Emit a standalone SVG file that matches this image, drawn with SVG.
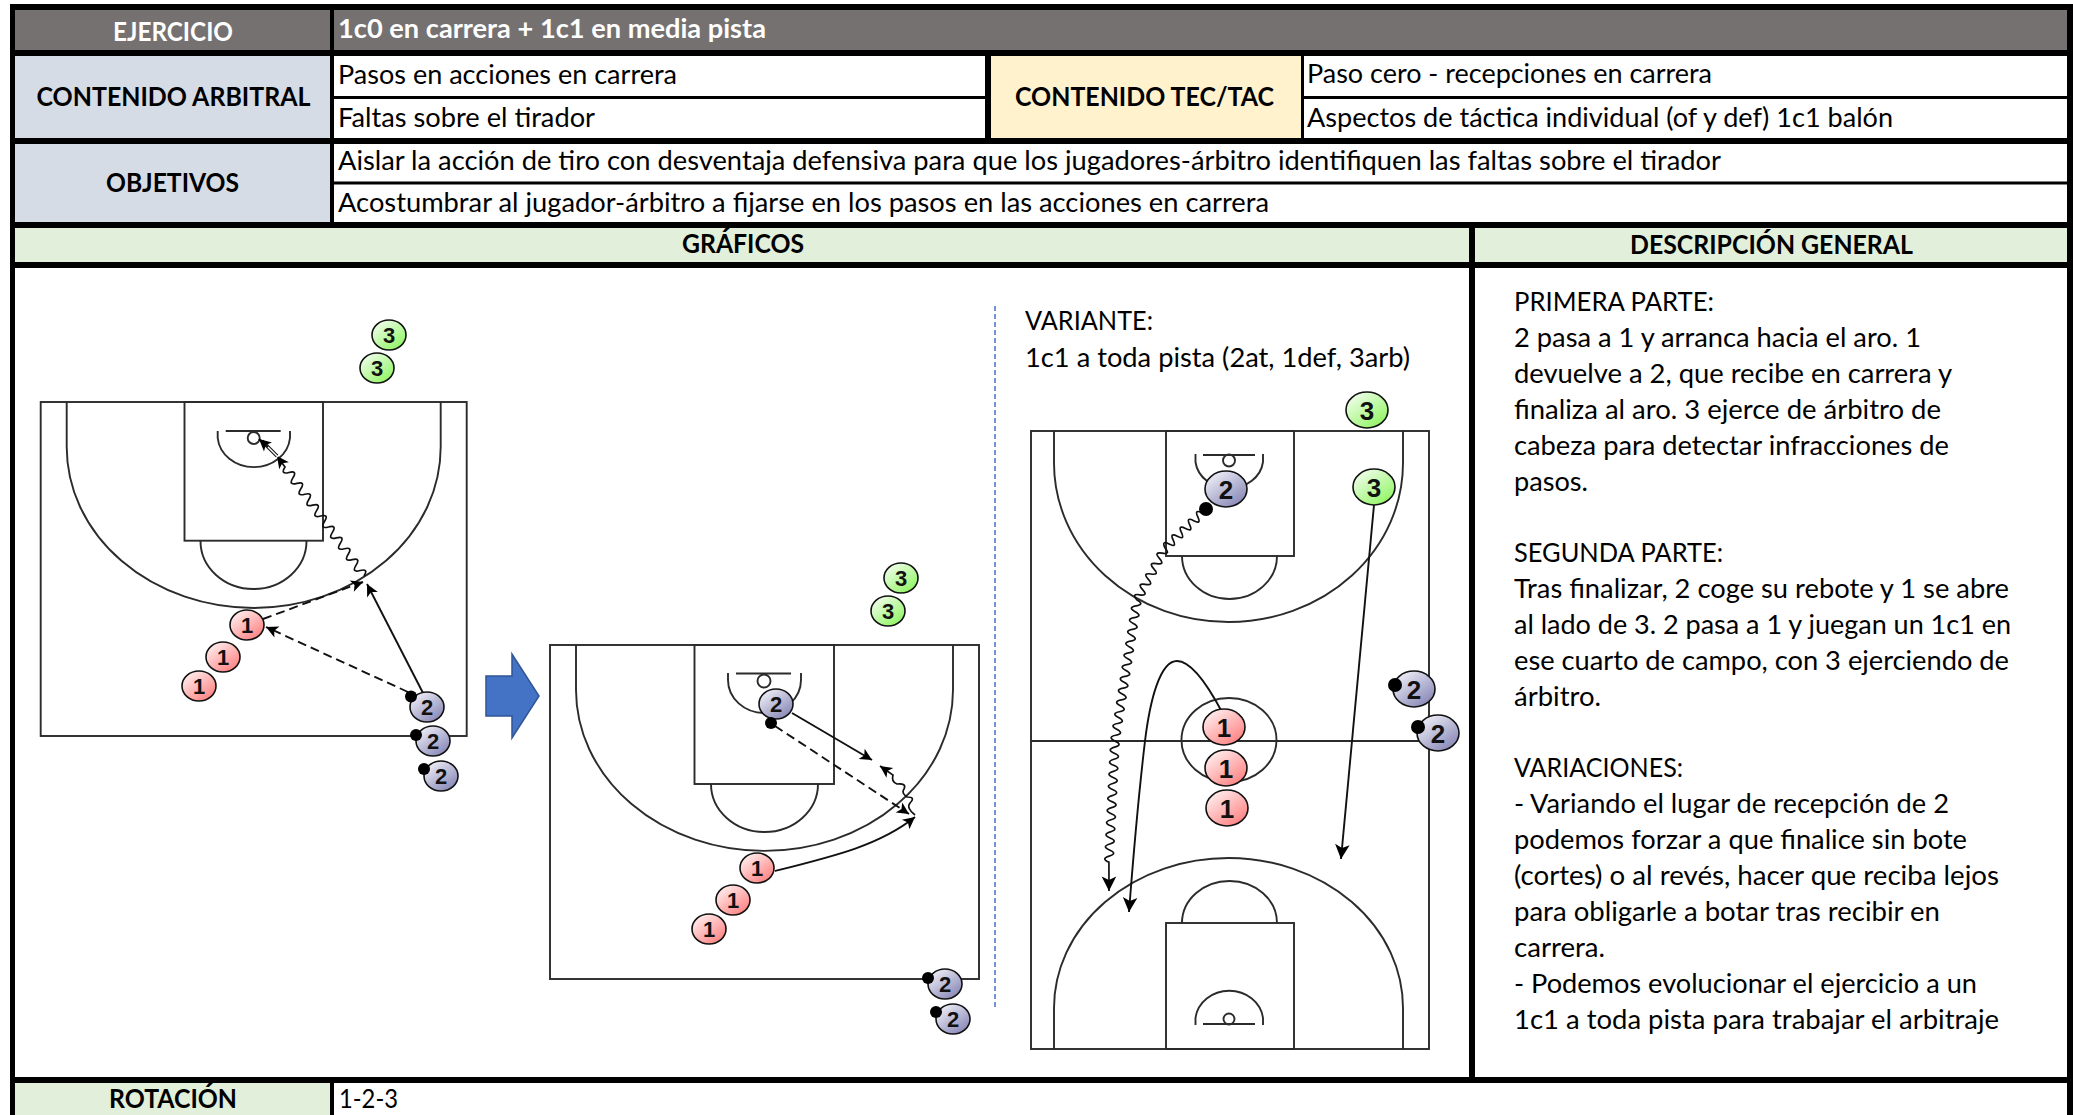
<svg xmlns="http://www.w3.org/2000/svg" width="2073" height="1115" viewBox="0 0 2073 1115">
<style>
text{font-family:Lato,"Liberation Sans",sans-serif;fill:#000}
.t{font-size:26.5px}
.d{font-size:26.5px}
.b{font-size:26px;font-weight:700}
.w{fill:#fff}
.c{fill:none;stroke:#2b2b2b;stroke-width:1.9}
.m{stroke:#111;stroke-width:1.6}
.n{font-family:"Liberation Sans",Arial,sans-serif;font-weight:700;font-size:22px;text-anchor:middle;fill:#111}
.nl{font-size:26px}
.ball{fill:#000}
.l{fill:none;stroke:#111;stroke-width:1.9;marker-end:url(#a)}
.lb{fill:none;stroke:#111;stroke-width:1.9;marker-end:url(#ab)}
.ds{stroke-dasharray:9 5}
.wv{stroke-width:1.7}
</style>
<defs>
<linearGradient id="gr" x1="0.15" y1="0.1" x2="0.85" y2="0.95"><stop offset="0" stop-color="#ffecec"/><stop offset="1" stop-color="#ff7f7f"/></linearGradient>
<linearGradient id="gg" x1="0.15" y1="0.1" x2="0.85" y2="0.95"><stop offset="0" stop-color="#eefde8"/><stop offset="1" stop-color="#8ff560"/></linearGradient>
<linearGradient id="gp" x1="0.15" y1="0.1" x2="0.85" y2="0.95"><stop offset="0" stop-color="#ececf6"/><stop offset="1" stop-color="#8585b5"/></linearGradient>
<marker id="a" markerUnits="userSpaceOnUse" markerWidth="14" markerHeight="14" viewBox="0 0 14 14" refX="13" refY="7" orient="auto"><path d="M1,1 L13,7 L1,13 L4,7z" fill="#000"/></marker>
<marker id="ab" markerUnits="userSpaceOnUse" markerWidth="17" markerHeight="17" viewBox="0 0 14 14" refX="13" refY="7" orient="auto"><path d="M1,1 L13,7 L1,13 L4,7z" fill="#000"/></marker>
</defs>
<rect width="2073" height="1115" fill="#fff"/>

<g id="table-frame" fill="#000">
<rect x="10" y="4" width="2063" height="6"/>
<rect x="10" y="50" width="2063" height="6"/>
<rect x="10" y="138" width="2063" height="6"/>
<rect x="10" y="222" width="2063" height="6"/>
<rect x="10" y="262" width="2063" height="6"/>
<rect x="10" y="1077" width="2063" height="6"/>
<rect x="334" y="96" width="651" height="3"/>
<rect x="1304" y="96" width="763" height="3"/>
<rect x="334" y="181.5" width="1733" height="3"/>
<rect x="10" y="4" width="5" height="1111"/>
<rect x="2067" y="4" width="6" height="1111"/>
<rect x="330" y="10" width="4" height="212"/>
<rect x="985" y="56" width="6" height="82"/>
<rect x="1301" y="56" width="3" height="82"/>
<rect x="1469" y="228" width="6" height="855"/>
<rect x="330" y="1083" width="4" height="32"/>
</g>

<g id="cell-ejercicio"><rect x="15" y="10" width="315" height="40" fill="#767171"/><text class="b w" x="113" y="41" textLength="120" lengthAdjust="spacingAndGlyphs">EJERCICIO</text></g>
<g id="cell-titulo"><rect x="334" y="10" width="1733" height="40" fill="#767171"/><text class="b w" x="338" y="38" textLength="428" lengthAdjust="spacingAndGlyphs">1c0 en carrera + 1c1 en media pista</text></g>
<g id="cell-arbitral"><rect x="15" y="56" width="315" height="82" fill="#D6DCE5"/><text class="b" x="36.5" y="106" textLength="274" lengthAdjust="spacingAndGlyphs">CONTENIDO ARBITRAL</text></g>
<g id="cell-pasos"><text class="t" x="338" y="84" textLength="339" lengthAdjust="spacingAndGlyphs">Pasos en acciones en carrera</text></g>
<g id="cell-faltas"><text class="t" x="338" y="127" textLength="257" lengthAdjust="spacingAndGlyphs">Faltas sobre el tirador</text></g>
<g id="cell-tectac"><rect x="991" y="56" width="310" height="82" fill="#FFF2CC"/><text class="b" x="1015" y="106" textLength="259" lengthAdjust="spacingAndGlyphs">CONTENIDO TEC/TAC</text></g>
<g id="cell-paso-cero"><text class="t" x="1307" y="83" textLength="405" lengthAdjust="spacingAndGlyphs">Paso cero - recepciones en carrera</text></g>
<g id="cell-aspectos"><text class="t" x="1307" y="127" textLength="586" lengthAdjust="spacingAndGlyphs">Aspectos de táctica individual (of y def) 1c1 balón</text></g>
<g id="cell-objetivos"><rect x="15" y="144" width="315" height="78" fill="#D6DCE5"/><text class="b" x="106" y="192" textLength="133" lengthAdjust="spacingAndGlyphs">OBJETIVOS</text></g>
<g id="cell-obj1"><text class="t" x="338" y="170" textLength="1383" lengthAdjust="spacingAndGlyphs">Aislar la acción de tiro con desventaja defensiva para que los jugadores-árbitro identifiquen las faltas sobre el tirador</text></g>
<g id="cell-obj2"><text class="t" x="338" y="212" textLength="931" lengthAdjust="spacingAndGlyphs">Acostumbrar al jugador-árbitro a fijarse en los pasos en las acciones en carrera</text></g>
<g id="cell-graficos"><rect x="15" y="228" width="1454" height="34" fill="#E2EFDA"/><text class="b" x="682" y="253" textLength="122" lengthAdjust="spacingAndGlyphs">GRÁFICOS</text></g>
<g id="cell-descripcion"><rect x="1475" y="228" width="592" height="34" fill="#E2EFDA"/><text class="b" x="1630" y="254" textLength="283" lengthAdjust="spacingAndGlyphs">DESCRIPCIÓN GENERAL</text></g>
<g id="cell-rotacion"><rect x="15" y="1083" width="315" height="32" fill="#E2EFDA"/><text class="b" x="109" y="1108" textLength="128" lengthAdjust="spacingAndGlyphs">ROTACIÓN</text></g>
<g id="cell-rotacion-valor"><text class="t" x="339" y="1108" textLength="59" lengthAdjust="spacingAndGlyphs">1-2-3</text></g>

<g id="descripcion-texto">
<text class="d" x="1514" y="311" textLength="200" lengthAdjust="spacingAndGlyphs">PRIMERA PARTE:</text>
<text class="d" x="1514" y="347" textLength="407" lengthAdjust="spacingAndGlyphs">2 pasa a 1 y arranca hacia el aro. 1</text>
<text class="d" x="1514" y="383" textLength="438" lengthAdjust="spacingAndGlyphs">devuelve a 2, que recibe en carrera y</text>
<text class="d" x="1514" y="419" textLength="427" lengthAdjust="spacingAndGlyphs">finaliza al aro. 3 ejerce de árbitro de</text>
<text class="d" x="1514" y="455" textLength="435" lengthAdjust="spacingAndGlyphs">cabeza para detectar infracciones de</text>
<text class="d" x="1514" y="491" textLength="74" lengthAdjust="spacingAndGlyphs">pasos.</text>
<text class="d" x="1514" y="562" textLength="209" lengthAdjust="spacingAndGlyphs">SEGUNDA PARTE:</text>
<text class="d" x="1514" y="598" textLength="495" lengthAdjust="spacingAndGlyphs">Tras finalizar, 2 coge su rebote y 1 se abre</text>
<text class="d" x="1514" y="634" textLength="497" lengthAdjust="spacingAndGlyphs">al lado de 3. 2 pasa a 1 y juegan un 1c1 en</text>
<text class="d" x="1514" y="670" textLength="495" lengthAdjust="spacingAndGlyphs">ese cuarto de campo, con 3 ejerciendo de</text>
<text class="d" x="1514" y="706" textLength="87" lengthAdjust="spacingAndGlyphs">árbitro.</text>
<text class="d" x="1514" y="777" textLength="169" lengthAdjust="spacingAndGlyphs">VARIACIONES:</text>
<text class="d" x="1514" y="813" textLength="435" lengthAdjust="spacingAndGlyphs">- Variando el lugar de recepción de 2</text>
<text class="d" x="1514" y="849" textLength="453" lengthAdjust="spacingAndGlyphs">podemos forzar a que finalice sin bote</text>
<text class="d" x="1514" y="885" textLength="485" lengthAdjust="spacingAndGlyphs">(cortes) o al revés, hacer que reciba lejos</text>
<text class="d" x="1514" y="921" textLength="426" lengthAdjust="spacingAndGlyphs">para obligarle a botar tras recibir en</text>
<text class="d" x="1514" y="957" textLength="91" lengthAdjust="spacingAndGlyphs">carrera.</text>
<text class="d" x="1514" y="993" textLength="463" lengthAdjust="spacingAndGlyphs">- Podemos evolucionar el ejercicio a un</text>
<text class="d" x="1514" y="1029" textLength="485" lengthAdjust="spacingAndGlyphs">1c1 a toda pista para trabajar el arbitraje</text>
</g>

<g id="variante-texto">
<text class="d" x="1025" y="330" textLength="128" lengthAdjust="spacingAndGlyphs">VARIANTE:</text>
<text class="d" x="1025" y="367" textLength="385" lengthAdjust="spacingAndGlyphs">1c1 a toda pista (2at, 1def, 3arb)</text>
</g>

<g id="court-1">
<rect class="c" x="40.7" y="402" width="426" height="334"/>
<path class="c" d="M66.7,402V447A187,161 0 0 0 440.7,447V402"/>
<rect class="c" x="184.5" y="402" width="138.5" height="138.7"/>
<path class="c" d="M200.5,541A53,48 0 0 0 306.5,541"/>
<path class="c" d="M217.7,431V438A36.3,32 0 0 0 290,438V431"/>
<path class="c" d="M225.7,431H280.7"/>
<circle class="c" cx="253.7" cy="438" r="6"/>
</g>
<g id="court-2">
<rect class="c" x="550" y="645" width="429" height="334"/>
<path class="c" d="M576,645V690A188.5,161 0 0 0 953,690V645"/>
<rect class="c" x="694.5" y="645" width="139.5" height="139"/>
<path class="c" d="M711,784A53.5,48 0 0 0 818,784"/>
<path class="c" d="M728,673V680A36.5,33 0 0 0 801,680V673"/>
<path class="c" d="M736,673.5H791"/>
<circle class="c" cx="764" cy="681" r="6.5"/>
</g>
<g id="court-3">
<rect class="c" x="1031" y="431" width="398" height="618"/>
<path class="c" d="M1031,741H1429"/>
<ellipse class="c" cx="1229" cy="740" rx="47.5" ry="42"/>
<path class="c" d="M1054,431V463A174.5,159 0 0 0 1403,463V431"/>
<rect class="c" x="1166" y="431" width="128" height="125"/>
<path class="c" d="M1182,556A47.5,43 0 0 0 1277,556"/>
<path class="c" d="M1195.5,454V462A34,30 0 0 0 1263,462V454"/>
<path class="c" d="M1203,455H1255"/>
<circle class="c" cx="1229" cy="460.5" r="6"/>
<path class="c" d="M1054,1049V1008A174.5,150 0 0 1 1403,1008V1049"/>
<rect class="c" x="1166" y="923" width="128" height="126"/>
<path class="c" d="M1182,923A47.5,42 0 0 1 1277,923"/>
<path class="c" d="M1195.5,1025V1018A34,31 0 0 1 1263,1018V1025"/>
<path class="c" d="M1203,1024H1255"/>
<circle class="c" cx="1229" cy="1019" r="5.5"/>
</g>

<g id="flecha-azul"><path d="M486,676H512V654L539,696L512,738V716H486z" fill="#4472C4" stroke="#2F5597" stroke-width="1.5"/></g>
<path id="separador" d="M995,306V1010" fill="none" stroke="#4472C4" stroke-width="1.5" stroke-dasharray="5 3"/>

<g id="connectors">
<path class="l" d="M423,693L367,584"/>
<path class="l ds" d="M408,692L266,627"/>
<path class="l ds" d="M263,619L363,582"/>
<path class="l wv" d="M364,576q4.9,-7.7 -3.95,-5.45t-3.95,-5.45t-3.95,-5.45t-3.95,-5.45t-3.95,-5.45t-3.95,-5.45t-3.95,-5.45t-3.95,-5.45t-3.95,-5.45t-3.95,-5.45t-3.95,-5.45t-3.95,-5.45t-3.95,-5.45t-3.95,-5.45t-3.95,-5.45t-3.95,-5.45t-3.95,-5.45t-3.95,-5.45t-3.95,-5.45t-3.95,-5.45L277,456"/>
<path d="M277,456L262,441" fill="none" stroke="#111" stroke-width="3.6"/>
<path d="M278,457L261,440" fill="none" stroke="#fff" stroke-width="1.5"/>
<path class="l" stroke-width="0" d="M268,447L259,439"/>

<path class="l" d="M792,713L872,760"/>
<path class="l ds" d="M775,726L909,814"/>
<path class="l" d="M775,871C835,856 880,845 915,817"/>
<path class="l wv" d="M915,815Q906,808 910,803Q916,797 907,797Q901,793 904,789Q907,783 897,784Q891,782 893,775L880,766"/>

<path class="lb" d="M1374,505L1341,859"/>
<path class="lb wv" d="M1206,509q3.85,8.05 -4.1,3.9t-4.1,3.9t-4.1,3.9t-4.1,3.9t-4.1,3.9t-4.1,3.9t-4.1,3.9t-4.1,3.9t-4.1,3.9t-4.1,3.9q6.1,6.6 -2.8,5.2t-2.8,5.2t-2.8,5.2t-2.8,5.2t-2.8,5.2t-2.8,5.2t-2.8,5.2t-2.8,5.2t-2.8,5.2t-2.8,5.2q7.94,4.24 -0.92,5.88t-0.92,5.88t-0.92,5.88t-0.92,5.88t-0.92,5.88t-0.92,5.88t-0.92,5.88t-0.92,5.88t-0.92,5.88t-0.92,5.88t-0.92,5.88t-0.92,5.88t-0.92,5.88t-0.92,5.88t-0.92,5.88t-0.92,5.88t-0.92,5.88t-0.92,5.88t-0.92,5.88t-0.92,5.88t-0.92,5.88t-0.92,5.88t-0.92,5.88t-0.92,5.88q8.35,3.43 -0.3,6.05t-0.3,6.05t-0.3,6.05t-0.3,6.05t-0.3,6.05t-0.3,6.05t-0.3,6.05t-0.3,6.05t-0.3,6.05t-0.3,6.05t-0.3,6.05t-0.3,6.05t-0.3,6.05t-0.3,6.05t-0.3,6.05t-0.3,6.05t-0.3,6.05t-0.3,6.05t-0.3,6.05t-0.3,6.05L1109,891"/>
<path class="lb" d="M1222,712C1205,680 1190,661 1177,661C1160,661 1150,700 1145,741C1138,800 1133,860 1129,912"/>
</g>

<defs>
<g id="p1"><ellipse class="m" rx="17" ry="15" fill="url(#gr)"/><text class="n" y="8">1</text></g>
<g id="p2"><ellipse class="m" rx="17" ry="15" fill="url(#gp)"/><text class="n" y="8">2</text></g>
<g id="p3"><ellipse class="m" rx="17" ry="15" fill="url(#gg)"/><text class="n" y="8">3</text></g>
<g id="q1"><ellipse class="m" rx="21" ry="18" fill="url(#gr)"/><text class="n nl" y="9.5">1</text></g>
<g id="q2"><ellipse class="m" rx="21" ry="18" fill="url(#gp)"/><text class="n nl" y="9.5">2</text></g>
<g id="q3"><ellipse class="m" rx="21" ry="18" fill="url(#gg)"/><text class="n nl" y="9.5">3</text></g>
</defs>

<g id="c1-j3a"><use href="#p3" x="389" y="335"/></g>
<g id="c1-j3b"><use href="#p3" x="377" y="368"/></g>
<g id="c1-j1a"><use href="#p1" x="247" y="625"/></g>
<g id="c1-j1b"><use href="#p1" x="223" y="657"/></g>
<g id="c1-j1c"><use href="#p1" x="199" y="686"/></g>
<g id="c1-j2a"><use href="#p2" x="427" y="707"/><circle class="ball" cx="411" cy="696.5" r="6"/></g>
<g id="c1-j2b"><use href="#p2" x="433" y="741"/><circle class="ball" cx="416" cy="735" r="6"/></g>
<g id="c1-j2c"><use href="#p2" x="441" y="776"/><circle class="ball" cx="424" cy="769" r="6"/></g>

<g id="c2-j3a"><use href="#p3" x="901" y="578"/></g>
<g id="c2-j3b"><use href="#p3" x="888" y="611"/></g>
<g id="c2-j1a"><use href="#p1" x="757" y="868"/></g>
<g id="c2-j1b"><use href="#p1" x="733" y="900"/></g>
<g id="c2-j1c"><use href="#p1" x="709" y="929"/></g>
<g id="c2-j2a"><use href="#p2" x="776" y="704"/><circle class="ball" cx="771" cy="723" r="6"/></g>
<g id="c2-j2b"><use href="#p2" x="945" y="984"/><circle class="ball" cx="928" cy="978" r="6"/></g>
<g id="c2-j2c"><use href="#p2" x="953" y="1019"/><circle class="ball" cx="936" cy="1012" r="6"/></g>

<g id="c3-j3a"><use href="#q3" x="1367" y="410"/></g>
<g id="c3-j3b"><use href="#q3" x="1374" y="487"/></g>
<g id="c3-j2a"><use href="#q2" x="1226" y="489"/><circle class="ball" cx="1206" cy="509" r="7"/></g>
<g id="c3-j1a"><use href="#q1" x="1224" y="727"/></g>
<g id="c3-j1b"><use href="#q1" x="1226" y="768"/></g>
<g id="c3-j1c"><use href="#q1" x="1227" y="808"/></g>
<g id="c3-j2b"><use href="#q2" x="1414" y="689"/><circle class="ball" cx="1395" cy="685" r="7"/></g>
<g id="c3-j2c"><use href="#q2" x="1438" y="733"/><circle class="ball" cx="1418" cy="727" r="7"/></g>
</svg>
